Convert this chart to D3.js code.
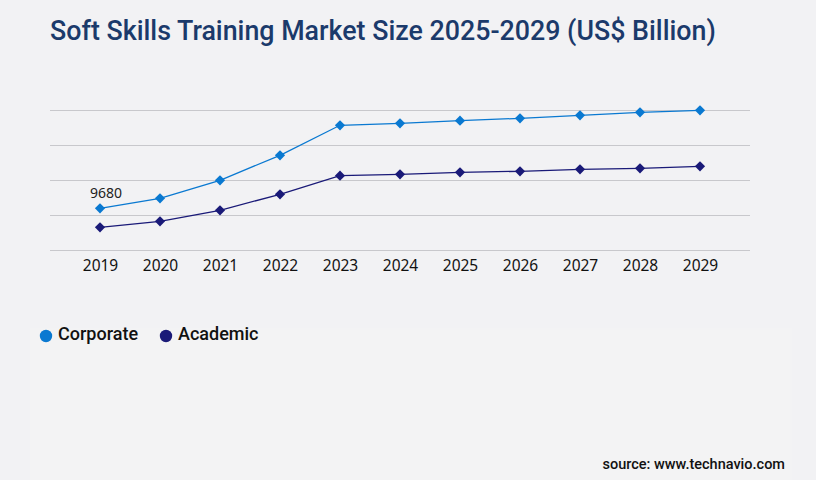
<!DOCTYPE html>
<html>
<head>
<meta charset="utf-8">
<script src="https://cdn.jsdelivr.net/npm/d3@7"></script>
<style>
  html, body { margin: 0; padding: 0; background: #f2f2f4; }
  svg { display: block; }
</style>
</head>
<body>
<svg id="chart" width="816" height="480"></svg>
<script>
const years = ["2019","2020","2021","2022","2023","2024","2025","2026","2027","2028","2029"];
const corporate = [9680, 12000, 16180, 21980, 28950, 29410, 30020, 30570, 31270, 31970, 32430];
const academic  = [5270, 6660, 9220, 12930, 17250, 17570, 18040, 18270, 18730, 18970, 19430];
const yTicks = [0, 8125, 16250, 24375, 32500];
const seriesNames = ["Corporate", "Academic"];
const seriesColors = ["#0a79d1", "#1a1a78"];

const svg = d3.select("#chart");

// subtle lower panel
svg.append("rect").attr("x", 30).attr("y", 328).attr("width", 762).attr("height", 152)
  .attr("fill", "#f3f3f4");

// title
svg.append("text").attr("x", 50).attr("y", 40)
  .attr("font-family", "Roboto").attr("font-weight", 500).attr("font-size", 26.8)
  .attr("fill", "#1b3a6b")
  .text("Soft Skills Training Market Size 2025-2029 (US$ Billion)");

const x = d3.scalePoint().domain(years).range([100, 700]);
const y = d3.scaleLinear().domain([0, 32500]).range([250, 110]);

// gridlines
svg.append("g").selectAll("line").data(yTicks).join("line")
  .attr("x1", 50).attr("x2", 750)
  .attr("y1", d => Math.round(y(d)) + 0.5).attr("y2", d => Math.round(y(d)) + 0.5)
  .attr("stroke", "#c8c8cc").attr("stroke-width", 1);

// x axis labels
const xAxis = d3.axisBottom(x).tickSize(0).tickPadding(0);
const gx = svg.append("g").attr("transform", "translate(0,259.5)").call(xAxis);
gx.select(".domain").remove();
gx.selectAll("text").attr("font-family", "Noto Sans").attr("font-size", 15.5).attr("fill", "#111");

const data = [corporate, academic];
const line = d3.line().x((d, i) => x(years[i])).y(d => y(d));
const diamond = d3.symbol().type(d3.symbolSquare).size(52);

data.forEach((vals, si) => {
  svg.append("path").datum(vals).attr("d", line)
    .attr("fill", "none").attr("stroke", seriesColors[si]).attr("stroke-width", 1.3);
  svg.append("g").selectAll("path").data(vals).join("path")
    .attr("transform", (d, i) => `translate(${x(years[i])},${y(d)}) rotate(45)`)
    .attr("d", diamond).attr("fill", seriesColors[si]);
});

// data label
svg.append("text").attr("x", x(years[0]) - 10).attr("y", y(corporate[0]) - 10)
  .attr("font-family", "Noto Sans").attr("font-size", 14).attr("fill", "#222")
  .text(String(corporate[0]));

// legend
const legX = [46, 166];
seriesNames.forEach((n, i) => {
  svg.append("circle").attr("cx", legX[i]).attr("cy", 336).attr("r", 6.2).attr("fill", seriesColors[i]);
  svg.append("text").attr("x", legX[i] + 12).attr("y", 340)
    .attr("font-family", "Roboto").attr("font-weight", 500).attr("font-size", 18).attr("fill", "#111")
    .text(n);
});

// source
svg.append("text").attr("x", 785).attr("y", 469).attr("text-anchor", "end")
  .attr("font-family", "Roboto").attr("font-weight", 500).attr("font-size", 14.5).attr("fill", "#111")
  .text("source: www.technavio.com");
</script>
</body>
</html>
